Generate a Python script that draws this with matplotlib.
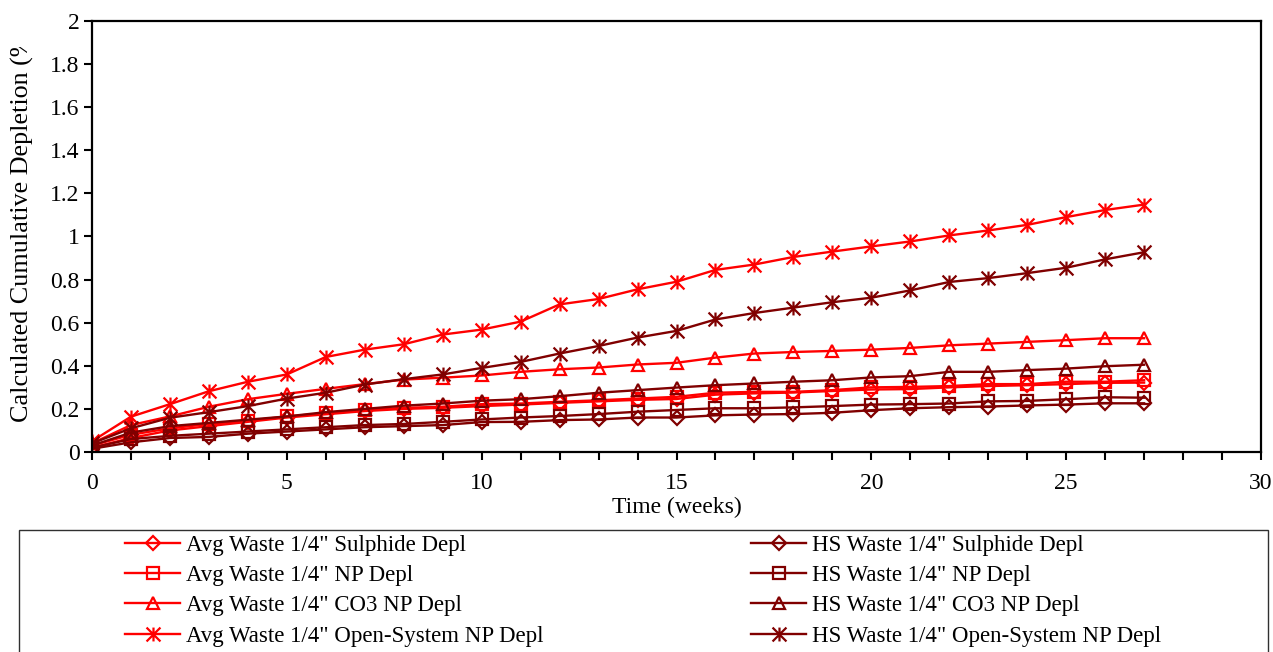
import matplotlib.pyplot as plt
import numpy as np
from matplotlib.path import Path
from matplotlib.patches import Rectangle
from matplotlib.transforms import Bbox, TransformedBbox
from matplotlib.ticker import MultipleLocator, FormatStrFormatter

plt.rcParams['font.family'] = ['Liberation Serif', 'DejaVu Serif']

weeks = list(range(28))

avg_sulphide = [0.02, 0.065, 0.10, 0.12, 0.14, 0.16, 0.175, 0.19, 0.20, 0.205,
                0.213, 0.22, 0.228, 0.235, 0.242, 0.246, 0.266, 0.272, 0.276, 0.283,
                0.29, 0.292, 0.30, 0.306, 0.31, 0.315, 0.321, 0.322]
avg_np = [0.03, 0.08, 0.11, 0.13, 0.145, 0.165, 0.18, 0.195, 0.205, 0.21,
          0.222, 0.225, 0.233, 0.24, 0.248, 0.256, 0.275, 0.279, 0.279, 0.287,
          0.30, 0.302, 0.306, 0.315, 0.315, 0.326, 0.326, 0.333]
avg_co3 = [0.04, 0.125, 0.165, 0.21, 0.245, 0.27, 0.293, 0.315, 0.336, 0.345,
           0.355, 0.372, 0.384, 0.392, 0.406, 0.414, 0.438, 0.457, 0.464, 0.469,
           0.475, 0.483, 0.495, 0.503, 0.511, 0.519, 0.528, 0.528]
avg_open = [0.05, 0.164, 0.222, 0.282, 0.326, 0.36, 0.441, 0.475, 0.50, 0.545,
            0.568, 0.605, 0.685, 0.71, 0.755, 0.79, 0.845, 0.87, 0.905, 0.93,
            0.954, 0.977, 1.005, 1.028, 1.054, 1.09, 1.123, 1.148]

hs_sulphide = [0.015, 0.045, 0.065, 0.07, 0.085, 0.095, 0.105, 0.115, 0.12, 0.125,
               0.139, 0.14, 0.148, 0.151, 0.16, 0.16, 0.17, 0.174, 0.176, 0.182,
               0.194, 0.203, 0.208, 0.211, 0.216, 0.22, 0.226, 0.226]
hs_np = [0.02, 0.06, 0.075, 0.085, 0.095, 0.105, 0.115, 0.125, 0.13, 0.14,
         0.151, 0.16, 0.167, 0.176, 0.187, 0.195, 0.203, 0.203, 0.207, 0.213,
         0.22, 0.222, 0.225, 0.235, 0.237, 0.245, 0.254, 0.252]
hs_co3 = [0.03, 0.09, 0.12, 0.135, 0.15, 0.165, 0.185, 0.20, 0.215, 0.225,
          0.238, 0.245, 0.259, 0.275, 0.287, 0.299, 0.31, 0.318, 0.326, 0.333,
          0.346, 0.352, 0.372, 0.372, 0.38, 0.387, 0.398, 0.405]
hs_open = [0.04, 0.11, 0.159, 0.185, 0.213, 0.248, 0.275, 0.313, 0.338, 0.36,
           0.39, 0.418, 0.457, 0.492, 0.531, 0.562, 0.615, 0.645, 0.67, 0.695,
           0.716, 0.75, 0.789, 0.807, 0.83, 0.855, 0.894, 0.927]

avg_labels = ['Avg Waste 1/4" Sulphide Depl', 'Avg Waste 1/4" NP Depl',
              'Avg Waste 1/4" CO3 NP Depl', 'Avg Waste 1/4" Open-System NP Depl']
hs_labels = ['HS Waste 1/4" Sulphide Depl', 'HS Waste 1/4" NP Depl',
             'HS Waste 1/4" CO3 NP Depl', 'HS Waste 1/4" Open-System NP Depl']

# Excel-style star: vertical bar plus an X
star = Path([(0, -1), (0, 1), (-1, -1), (1, 1), (-1, 1), (1, -1)],
            [Path.MOVETO, Path.LINETO] * 3)

W, H = 1273, 652
fig = plt.figure(figsize=(W / 100, H / 100), dpi=100)
ax = fig.add_axes([92 / W, 1 - 452 / H, (1261 - 92) / W, (452 - 21) / H])

red = '#FF0000'
dark = '#800000'
markers = ['D', 's', '^', star]
sizes = [7, 8, 9, 10]

handles = []
for series, labels, color in [((avg_sulphide, avg_np, avg_co3, avg_open), avg_labels, red),
                              ((hs_sulphide, hs_np, hs_co3, hs_open), hs_labels, dark)]:
    for ys, lab, m, ms in zip(series, labels, markers, sizes):
        h, = ax.plot(weeks, ys, color=color, lw=1.7, marker=m, ms=ms,
                     mfc='none', mec=color, mew=1.6, label=lab)
        handles.append(h)

ax.set_xlim(0, 30)
ax.set_ylim(0, 2)
ax.xaxis.set_major_locator(MultipleLocator(5))
ax.xaxis.set_minor_locator(MultipleLocator(1))
ax.yaxis.set_major_locator(MultipleLocator(0.2))
ax.yaxis.set_major_formatter(FormatStrFormatter('%g'))
ax.tick_params(axis='x', which='both', direction='out', length=6, width=1.5,
               labelsize=17, pad=9)
ax.tick_params(axis='y', direction='out', length=6, width=1.5, labelsize=17, pad=3)
for s in ax.spines.values():
    s.set_linewidth(1.6)

ax.set_xlabel('Time (weeks)', fontsize=17, labelpad=2)

# y title, cut off at the top of its box
ylab = fig.text(22 / W, 1 - 422 / H, 'Calculated Cumulative Depletion (%)',
                rotation=90, ha='center', va='bottom', fontsize=18.8)
ylab.set_clip_box(TransformedBbox(Bbox([[0, 0], [1, 1 - 47 / H]]), fig.transFigure))
ylab.set_clip_on(True)

# legend frame across the bottom
fig.patches.append(Rectangle((19 / W, -0.01), (1268 - 19) / W, 1 - 530 / H + 0.01,
                             transform=fig.transFigure, fill=False,
                             edgecolor='#303030', lw=1.0))

fs = 16.5
for hs, x0 in [(handles[:4], 125), (handles[4:], 751)]:
    fig.legend(handles=hs, loc='upper left', bbox_to_anchor=(x0 / W, 1 - 535 / H),
               frameon=False, fontsize=fs, borderpad=0, borderaxespad=0,
               handlelength=2.4, handletextpad=0.26, labelspacing=0.4)

fig.savefig('out.png', dpi=100)
